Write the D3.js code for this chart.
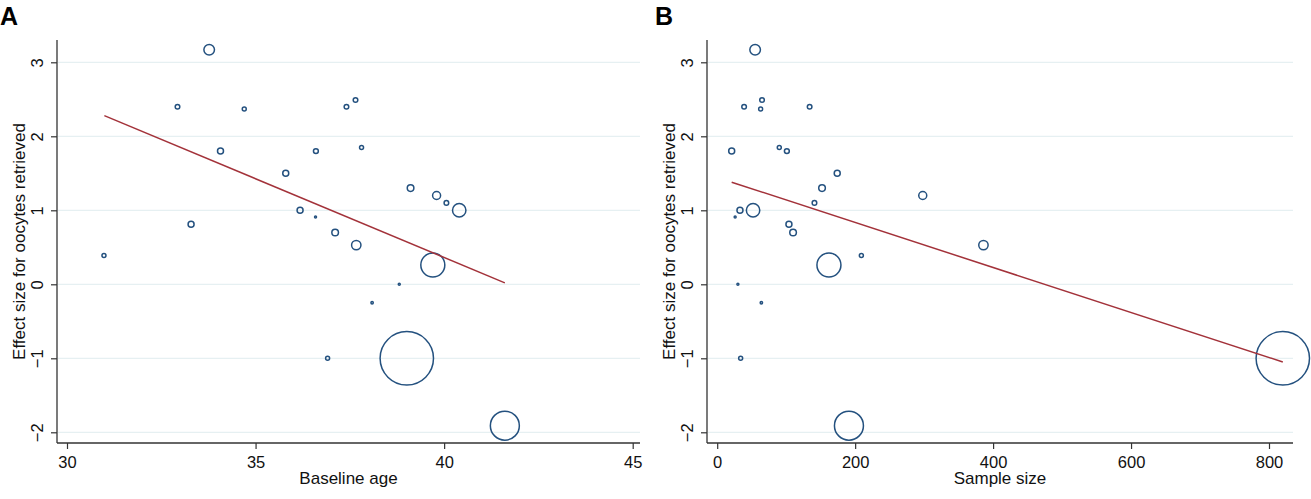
<!DOCTYPE html>
<html>
<head>
<meta charset="utf-8">
<script src="https://cdn.jsdelivr.net/npm/d3@7"></script>
<style>
  html, body { margin: 0; padding: 0; background: #fff; }
  svg { display: block; font-family: "Liberation Sans", Arial, Helvetica, sans-serif; }
</style>
</head>
<body>
<svg id="chart" width="1311" height="499"></svg>
<script>
// ---- data (one entry per study) ----
const effectSize = [3.17, 2.40, 2.49, 2.37, 2.40, 1.80, 1.85, 1.80, 1.50, 1.30, 1.10, 1.20, 1.00, 1.00, 0.91, 0.81, 0.70, 0.53, 0.26, 0.39, 0.00, -0.25, -1.00, -1.00, -1.91];
const baselineAge = [33.77, 32.93, 37.65, 34.70, 37.41, 34.07, 37.81, 36.60, 35.80, 39.11, 40.06, 39.80, 36.18, 40.40, 36.59, 33.29, 37.11, 37.67, 39.70, 30.98, 38.81, 38.09, 36.91, 39.01, 41.61];
const sampleSize  = [55, 39, 65, 63, 134, 21, 90, 101, 174, 152, 141, 298, 33, 52, 26, 104, 110, 386, 162, 209, 30, 64, 34, 820, 191];
const studyWeight = [28, 5.3, 5.3, 4, 5.3, 9, 4, 6, 9, 11, 5.3, 16, 9, 45, 1, 9, 11, 22, 144, 4, 1, 1.4, 4, 713, 210];

// fitted meta-regression lines (endpoints at min/max of x)
const fitAgeX = [30.99, 41.61];
const fitAgeY = [2.28, 0.02];
const fitSizeX = [21, 820];
const fitSizeY = [1.38, -1.05];

// tick labels
const yTicks = [-2, -1, 0, 1, 2, 3];
const ageTicks = [30, 35, 40, 45];
const sizeTicks = [0, 200, 400, 600, 800];

const yTitle = "Effect size for oocytes retrieved";

// ---- drawing ----
const svg = d3.select("#chart");
const NAVY = "#24517f";
const RED = "#a3323a";
const GRID = "#e6f0f2";
const AXIS = "#333333";

const y = d3.scaleLinear().domain([-2, 3]).range([432.3, 62.3]);
const r = d3.scaleSqrt().domain([0, 1]).range([0, 1]);

function panel(opts) {
  const g = svg.append("g");
  const x = opts.x;
  const left = opts.left, right = opts.right, top = 40, bottom = 443;

  // gridlines
  g.append("g").selectAll("line").data(yTicks).join("line")
    .attr("x1", left + 1).attr("x2", right)
    .attr("y1", d => y(d)).attr("y2", d => y(d))
    .attr("stroke", GRID).attr("stroke-width", 1.2);

  // y axis
  const yAxis = g.append("g").attr("transform", `translate(${left},0)`)
    .call(d3.axisLeft(y).tickValues(yTicks).tickSize(6).tickPadding(4).tickFormat(d3.format("d")));
  yAxis.select(".domain").remove();
  yAxis.selectAll(".tick line").attr("stroke", AXIS).attr("stroke-width", 1.2);
  yAxis.selectAll(".tick text")
    .attr("x", null).attr("dy", null)
    .attr("transform", "translate(-14,0) rotate(-90)")
    .attr("text-anchor", "middle")
    .attr("font-size", 16.5).attr("fill", "#111");
  g.append("line").attr("x1", left).attr("x2", left).attr("y1", top).attr("y2", bottom)
    .attr("stroke", AXIS).attr("stroke-width", 1.3);

  // x axis
  const xAxis = g.append("g").attr("transform", `translate(0,${bottom})`)
    .call(d3.axisBottom(x).tickValues(opts.ticks).tickSize(6).tickPadding(7).tickFormat(d3.format("d")));
  xAxis.select(".domain").remove();
  xAxis.selectAll(".tick line").attr("stroke", AXIS).attr("stroke-width", 1.2);
  xAxis.selectAll(".tick text").attr("font-size", 16.5).attr("fill", "#111");
  g.append("line").attr("x1", left).attr("x2", right).attr("y1", bottom).attr("y2", bottom)
    .attr("stroke", AXIS).attr("stroke-width", 1.3);

  // titles
  g.append("text").attr("x", (left + right) / 2).attr("y", 484)
    .attr("text-anchor", "middle").attr("font-size", 17).attr("fill", "#111")
    .text(opts.xTitle);
  g.append("text").attr("transform", `translate(${left - 32},${(top + bottom) / 2}) rotate(-90)`)
    .attr("text-anchor", "middle").attr("font-size", 17).attr("fill", "#111")
    .text(yTitle);
  g.append("text").attr("x", opts.letterX).attr("y", 25)
    .attr("font-size", 25).attr("font-weight", "bold").attr("fill", "#000")
    .text(opts.letter);

  // bubbles
  const pts = effectSize.map((e, i) => ({ xv: opts.xs[i], yv: e, w: studyWeight[i] }));
  g.append("g").selectAll("circle").data(pts).join("circle")
    .attr("cx", d => x(d.xv)).attr("cy", d => y(d.yv))
    .attr("r", d => Math.max(1, r(d.w)))
    .attr("fill", "none").attr("stroke", NAVY).attr("stroke-width", 1.5);

  // fit line
  const line = d3.line().x(d => x(d[0])).y(d => y(d[1]));
  g.append("path").datum(opts.fitX.map((v, i) => [v, opts.fitY[i]]))
    .attr("d", line).attr("fill", "none").attr("stroke", RED).attr("stroke-width", 1.5);
}

panel({
  x: d3.scaleLinear().domain([30, 45]).range([67, 632.7]),
  left: 57, right: 640, ticks: ageTicks, xs: baselineAge,
  fitX: fitAgeX, fitY: fitAgeY, xTitle: "Baseline age", letter: "A", letterX: 0
});
panel({
  x: d3.scaleLinear().domain([0, 800]).range([717.2, 1269]),
  left: 707, right: 1293, ticks: sizeTicks, xs: sampleSize,
  fitX: fitSizeX, fitY: fitSizeY, xTitle: "Sample size", letter: "B", letterX: 655
});
</script>
</body>
</html>
